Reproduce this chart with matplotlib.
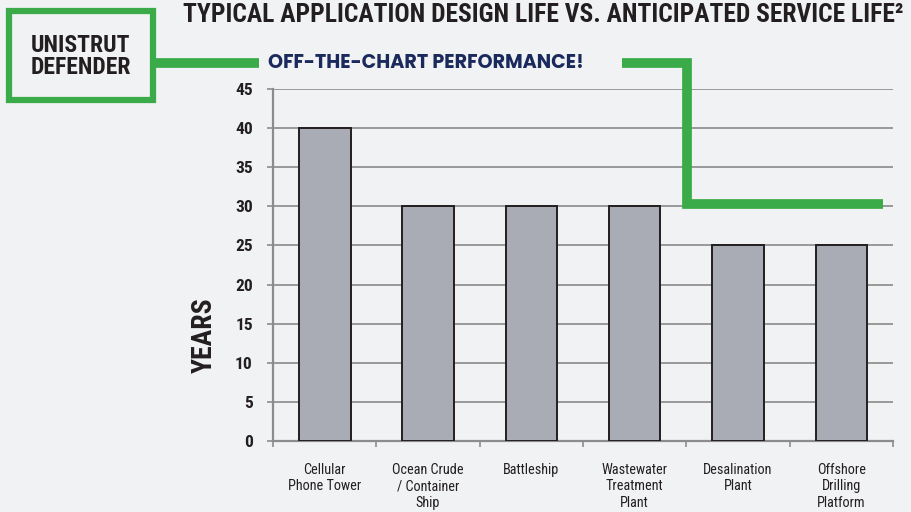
import matplotlib
matplotlib.use("Agg")
import matplotlib.pyplot as plt
from matplotlib import font_manager
from matplotlib.lines import Line2D
from matplotlib.patches import Rectangle

# data
categories = ["Cellular\nPhone Tower", "Ocean Crude\n/ Container\nShip", "Battleship",
              "Wastewater\nTreatment\nPlant", "Desalination\nPlant", "Offshore\nDrilling\nPlatform"]
years = [40, 30, 30, 30, 25, 25]
yticks = [0, 5, 10, 15, 20, 25, 30, 35, 40, 45]

W, H = 911, 512
BG = "#F1F2F4"
GREEN = "#3AAB48"
NAVY = "#1B2A5C"
DARK = "#231F20"

bold_fonts = {f.name for f in font_manager.fontManager.ttflist
              if f.weight in (700, 800, "bold", "extra bold")}
wide = next((n for n in ["Montserrat", "Poppins", "Raleway", "Nunito Sans", "Open Sans"]
             if n in bold_fonts), "DejaVu Sans")
COND = ["Roboto Condensed", "DejaVu Sans"]


def px(x, y):
    # pixel position (from top-left) -> figure fraction
    return x / W, 1 - y / H


fig = plt.figure(figsize=(W / 100, H / 100), dpi=100, facecolor=BG)
ax = fig.add_axes([273 / W, 1 - 441 / H, 620 / W, 352 / H])
ax.set_facecolor(BG)

x = range(len(categories))
ax.bar(x, years, width=0.5, color="#A9ACB4", edgecolor=DARK, linewidth=1.4, zorder=3)

ax.set_xlim(-0.5, len(categories) - 0.5)
ax.set_ylim(0, 45)
ax.set_yticks(yticks)
ax.set_yticklabels([str(v) for v in yticks], fontfamily=COND, fontweight="bold",
                   fontsize=12.5, color=DARK)
ax.tick_params(axis="y", length=4.5, width=1.2, color="#8C8C8C", pad=10)
ax.set_xticks(list(x))
ax.set_xticklabels(categories, fontfamily=COND, fontsize=10.3, color=DARK, linespacing=1.2, va="top")
ax.tick_params(axis="x", which="major", length=0, pad=16)
ax.set_xticks([i - 0.5 for i in range(len(categories) + 1)], minor=True)
ax.tick_params(axis="x", which="minor", length=4, width=1.2, color="#8C8C8C")

ax.grid(axis="y", color="#929292", linewidth=1.3, zorder=0)
for s in ["top", "right"]:
    ax.spines[s].set_visible(False)
for s in ["left", "bottom"]:
    ax.spines[s].set_color("#8C8C8C")
    ax.spines[s].set_linewidth(1.6)

ax.set_ylabel("YEARS", fontfamily=COND, fontweight="bold", fontsize=20, color=DARK)
ax.yaxis.set_label_coords((218 - 273) / 620, (441 - 335) / 352)

# title
fig.text(*px(183, 15), "TYPICAL APPLICATION DESIGN LIFE VS. ANTICIPATED SERVICE LIFE²",
         fontfamily=COND, fontweight="bold", fontsize=18.4, color=DARK, ha="left", va="center")

# Unistrut Defender box
bx0, by0 = px(9, 100)
bx1, by1 = px(153, 11)
fig.patches.append(Rectangle((bx0, by0), bx1 - bx0, by1 - by0, transform=fig.transFigure,
                             facecolor=BG, edgecolor=GREEN, linewidth=4.5, joinstyle="miter"))
fig.text(*px(81, 45), "UNISTRUT", fontfamily=COND, fontweight="bold", fontsize=17,
         color=DARK, ha="center", va="center")
fig.text(*px(81, 68), "DEFENDER", fontfamily=COND, fontweight="bold", fontsize=17,
         color=DARK, ha="center", va="center")


# green connector lines
def green_line(points):
    xs, ys = zip(*[px(a, b) for a, b in points])
    fig.lines.append(Line2D(xs, ys, transform=fig.transFigure, color=GREEN, linewidth=7,
                            solid_joinstyle="miter", solid_capstyle="butt"))


green_line([(155, 62.5), (259, 62.5)])
green_line([(622, 62.5), (687, 62.5), (687, 203.5), (883, 203.5)])

fig.text(*px(268, 63), "OFF-THE-CHART PERFORMANCE!", fontfamily=[wide, "DejaVu Sans"],
         fontweight="bold", fontsize=13.8, color=NAVY, ha="left", va="center")

fig.savefig("out.png", dpi=100, facecolor=BG)
